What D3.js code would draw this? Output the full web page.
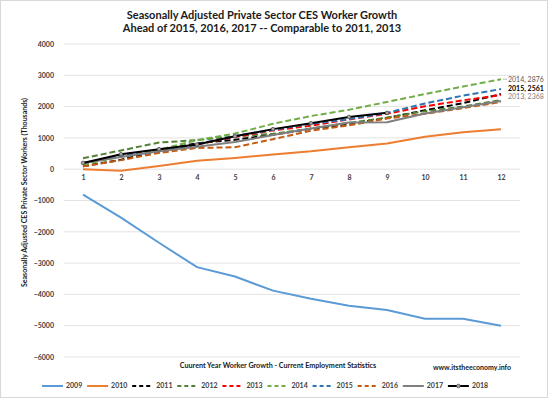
<!DOCTYPE html>
<html>
<head>
<meta charset="utf-8">
<script src="https://cdn.jsdelivr.net/npm/d3@7"></script>
<style>
  body { margin: 0; background: #fff; }
  svg { display: block; font-family: Lato, "Open Sans", sans-serif; }
</style>
</head>
<body>
<div id="chart"></div>
<script>
// months on the category axis
const months = [1, 2, 3, 4, 5, 6, 7, 8, 9, 10, 11, 12];
const yTicks = [4000, 3000, 2000, 1000, 0, -1000, -2000, -3000, -4000, -5000, -6000];

// cumulative private sector CES growth (thousands)
const y2009 = [-810, -1550, -2350, -3130, -3430, -3880, -4140, -4360, -4500, -4780, -4780, -5000];
const y2010 = [0, -50, 100, 270, 360, 470, 570, 700, 820, 1040, 1180, 1280];
const y2011 = [90, 300, 600, 830, 940, 1100, 1290, 1430, 1640, 1880, 2110, 2400];
const y2012 = [350, 600, 850, 930, 1050, 1130, 1300, 1480, 1650, 1850, 2000, 2210];
const y2013 = [180, 450, 600, 790, 1030, 1240, 1390, 1590, 1770, 2010, 2200, 2368];
const y2014 = [150, 400, 620, 930, 1140, 1450, 1700, 1900, 2150, 2400, 2640, 2876];
const y2015 = [190, 440, 540, 800, 1060, 1260, 1450, 1600, 1800, 2100, 2350, 2561];
const y2016 = [90, 290, 520, 680, 700, 960, 1230, 1400, 1620, 1770, 1950, 2150];
const y2017 = [200, 390, 570, 720, 870, 1090, 1300, 1490, 1500, 1780, 1980, 2180];
const y2018 = [200, 480, 640, 790, 1050, 1280, 1470, 1670, 1800];

const series = [
  { name: "2009", values: y2009, color: "#5b9bd5", dash: null },
  { name: "2010", values: y2010, color: "#ed7d31", dash: null },
  { name: "2011", values: y2011, color: "#000000", dash: "6,3" },
  { name: "2012", values: y2012, color: "#548235", dash: "6,3" },
  { name: "2013", values: y2013, color: "#ff0000", dash: "6,3" },
  { name: "2014", values: y2014, color: "#70ad47", dash: "6,3" },
  { name: "2015", values: y2015, color: "#2e75b6", dash: "6,3" },
  { name: "2016", values: y2016, color: "#c55a11", dash: "6,3" },
  { name: "2017", values: y2017, color: "#7f7f7f", dash: null },
  { name: "2018", values: y2018, color: "#000000", dash: null, marker: true }
];

// end labels (shift keeps the two lower ones apart)
const endLabels = [
  { name: "2014", color: "#595959", weight: "normal", shift: 0 },
  { name: "2015", color: "#000000", weight: "bold", shift: -0.5 },
  { name: "2013", color: "#7f7f7f", weight: "normal", shift: 1.8 }
];

const W = 548, H = 398;
const plot = { left: 64, right: 520, top: 44, bottom: 357 };

const svg = d3.select("#chart").append("svg")
  .attr("width", W).attr("height", H);

svg.append("rect")
  .attr("x", 0.5).attr("y", 0.5).attr("width", W - 1).attr("height", H - 1)
  .attr("fill", "#fff").attr("stroke", "#d9d9d9");

const x = d3.scalePoint()
  .domain(months)
  .range([plot.left, plot.right])
  .padding(0.5);

const y = d3.scaleLinear()
  .domain([-6000, 4000])
  .range([plot.bottom, plot.top]);

// gridlines
svg.append("g")
  .selectAll("line")
  .data(yTicks)
  .enter().append("line")
  .attr("x1", plot.left).attr("x2", plot.right)
  .attr("y1", d => y(d)).attr("y2", d => y(d))
  .attr("stroke", "#e3e3e3").attr("stroke-width", 1);

// y axis labels
const yAxis = svg.append("g")
  .attr("transform", "translate(" + (plot.left - 4) + ",0)")
  .call(d3.axisLeft(y).tickValues(yTicks).tickSize(0).tickPadding(6).tickFormat(d3.format("d")));
yAxis.select(".domain").remove();
yAxis.selectAll("text")
  .attr("font-size", "7px").attr("font-weight", "bold").attr("fill", "#404040")
  .attr("font-family", "Lato, sans-serif");

// x axis labels under the zero line
const xAxis = svg.append("g")
  .attr("transform", "translate(0," + y(0) + ")")
  .call(d3.axisBottom(x).tickSize(0).tickPadding(6));
xAxis.select(".domain").remove();
xAxis.selectAll("text")
  .attr("font-size", "7px").attr("font-weight", "bold").attr("fill", "#404040")
  .attr("font-family", "Lato, sans-serif");

const line = d3.line()
  .x((d, i) => x(months[i]))
  .y(d => y(d));

svg.append("g")
  .selectAll("path")
  .data(series)
  .enter().append("path")
  .attr("d", d => line(d.values))
  .attr("fill", "none")
  .attr("stroke", d => d.color)
  .attr("stroke-width", 2)
  .attr("stroke-dasharray", d => d.dash);

// 2018 markers
svg.append("g")
  .selectAll("circle")
  .data(y2018)
  .enter().append("circle")
  .attr("cx", (d, i) => x(months[i]))
  .attr("cy", d => y(d))
  .attr("r", 1.8)
  .attr("fill", "#a6a6a6")
  .attr("stroke", "#404040")
  .attr("stroke-width", 0.7);

// end-of-line labels
const last = months.length - 1;
endLabels.forEach(lab => {
  const s = series.find(d => d.name === lab.name);
  const v = s.values[last];
  svg.append("text")
    .attr("x", x(months[last]) + 7)
    .attr("y", y(v) + lab.shift)
    .attr("dy", "0.35em")
    .attr("font-size", "7px")
    .attr("font-weight", lab.weight)
    .attr("fill", lab.color)
    .text(lab.name + ", " + v);
});
svg.append("line")
  .attr("x1", x(12) + 2).attr("x2", x(12) + 6)
  .attr("y1", y(2876)).attr("y2", y(2876))
  .attr("stroke", "#a6a6a6").attr("stroke-width", 0.8);

// titles
svg.append("text")
  .attr("x", 262).attr("y", 19)
  .attr("text-anchor", "middle")
  .attr("font-size", "11px").attr("font-weight", "bold").attr("fill", "#1a1a1a")
  .text("Seasonally Adjusted Private Sector CES Worker Growth");
svg.append("text")
  .attr("x", 262).attr("y", 32)
  .attr("text-anchor", "middle")
  .attr("font-size", "11px").attr("font-weight", "bold").attr("fill", "#1a1a1a")
  .text("Ahead of 2015, 2016, 2017 -- Comparable to 2011, 2013");

svg.append("text")
  .attr("transform", "translate(27," + ((plot.top + plot.bottom) / 2 - 8) + ")rotate(-90)")
  .attr("text-anchor", "middle")
  .attr("font-size", "7px").attr("font-weight", "bold").attr("fill", "#1a1a1a")
  .text("Seasonally Adjusted CES Private Sector Workers (Thousands)");

svg.append("text")
  .attr("x", 278).attr("y", 368)
  .attr("text-anchor", "middle")
  .attr("font-size", "7.2px").attr("font-weight", "bold").attr("fill", "#1a1a1a")
  .text("Cuurent Year Worker Growth - Current Employment Statistics");

svg.append("text")
  .attr("x", 511).attr("y", 370)
  .attr("text-anchor", "end")
  .attr("font-size", "7px").attr("font-weight", "bold").attr("fill", "#1a1a1a")
  .text("www.itstheeconomy.info");

// legend
const legend = svg.append("g")
  .selectAll("g")
  .data(series)
  .enter().append("g")
  .attr("transform", (d, i) => "translate(" + (42 + i * 45.1) + ",386)");
legend.append("line")
  .attr("x1", 0).attr("x2", 21)
  .attr("stroke", d => d.color)
  .attr("stroke-width", 2)
  .attr("stroke-dasharray", d => d.dash ? "4,3" : null);
legend.filter(d => d.marker).append("circle")
  .attr("cx", 10.5).attr("r", 1.8)
  .attr("fill", "#a6a6a6").attr("stroke", "#404040").attr("stroke-width", 0.7);
legend.append("text")
  .attr("x", 24).attr("dy", "0.35em")
  .attr("font-size", "7px").attr("font-weight", "bold").attr("fill", "#404040")
  .text(d => d.name);
</script>
</body>
</html>
